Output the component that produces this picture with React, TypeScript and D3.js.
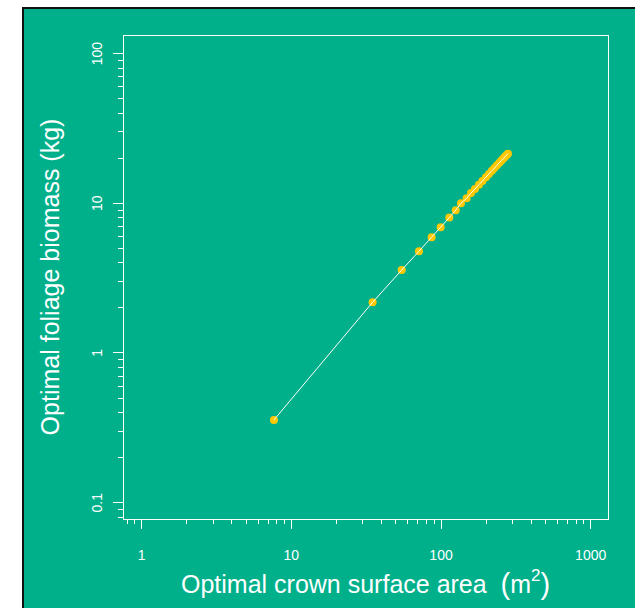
import * as d3 from "d3";

const BG = "#00b08b";
const POINT = "#ffc800";
const FONT = "'Liberation Sans', Arial, sans-serif";

// optimal crown surface area (m2) and optimal foliage biomass (kg)
const crownArea = [
  7.65, 34.9, 54.6, 71.2, 86.5, 99.4, 113.5, 125.4, 135.9, 148.3, 158.6, 168.5,
  179.1, 189.1, 199.5, 208.9, 218.8, 227.4, 236.3, 245.5, 253.2, 261.1, 267.3,
  273.5, 279.9,
];
const foliageBiomass = [
  0.357, 2.18, 3.58, 4.78, 5.93, 6.92, 8.02, 8.98, 10.0, 10.8, 11.7, 12.46,
  13.31, 14.09, 14.94, 15.69, 16.49, 17.19, 17.92, 18.67, 19.28, 19.92, 20.42,
  20.92, 21.45,
];

const xTicks = [1, 10, 100, 1000];
const yTicks = [0.1, 1, 10, 100];

const BOX = { left: 123, right: 608, top: 35, bottom: 519 };

const minorTicks = (lo: number, hi: number) => {
  const out: number[] = [];
  for (let e = -3; e <= 4; e++) {
    for (let m = 2; m <= 9; m++) {
      const v = m * Math.pow(10, e);
      if (v >= lo && v <= hi) out.push(v);
    }
  }
  return out;
};

export default function App() {
  const x = d3.scaleLog().domain([0.75, 1305]).range([BOX.left, BOX.right]);
  const y = d3.scaleLog().domain([0.0778, 133]).range([BOX.bottom, BOX.top]);

  const points = crownArea.map((a, i) => ({ a, b: foliageBiomass[i] }));
  const line = d3
    .line<{ a: number; b: number }>()
    .x((d) => x(d.a))
    .y((d) => y(d.b));

  const xMinor = minorTicks(0.75, 1305);
  const yMinor = minorTicks(0.0778, 133);

  return (
    <svg
      width={635}
      height={608}
      style={{ position: "absolute", left: 0, top: 0 }}
      fontFamily={FONT}
    >
      <rect x={23} y={8} width={640} height={640} fill={BG} stroke="#111" strokeWidth={2} />
      <rect
        x={BOX.left}
        y={BOX.top}
        width={BOX.right - BOX.left}
        height={BOX.bottom - BOX.top}
        fill="none"
        stroke="#ffffff"
        strokeWidth={1}
        shapeRendering="crispEdges"
      />

      {/* ticks */}
      <g stroke="#ffffff" shapeRendering="crispEdges">
        {xMinor.map((t) => (
          <line key={`xm${t}`} x1={x(t)} x2={x(t)} y1={BOX.bottom} y2={BOX.bottom + 5} />
        ))}
        {xTicks.map((t) => (
          <line key={`xM${t}`} x1={x(t)} x2={x(t)} y1={BOX.bottom} y2={BOX.bottom + 10} />
        ))}
        {yMinor.map((t) => (
          <line key={`ym${t}`} y1={y(t)} y2={y(t)} x1={BOX.left} x2={BOX.left - 5} />
        ))}
        {yTicks.map((t) => (
          <line key={`yM${t}`} y1={y(t)} y2={y(t)} x1={BOX.left} x2={BOX.left - 10} />
        ))}
      </g>
      {xTicks.map((t) => (
        <text key={`xl${t}`} x={x(t)} y={560} fill="#ffffff" fontSize={14} textAnchor="middle">
          {t}
        </text>
      ))}
      {yTicks.map((t) => (
        <text
          key={`yl${t}`}
          transform={`translate(102,${y(t)}) rotate(-90)`}
          fill="#ffffff"
          fontSize={14}
          textAnchor="middle"
        >
          {t}
        </text>
      ))}

      {/* axis titles */}
      <text x={181} y={593} fill="#ffffff" fontSize={25}>
        Optimal crown surface area{"\u00a0\u00a0"}
        <tspan fontSize={29} dy={1}>(</tspan>
        <tspan dy={-1}>m</tspan>
        <tspan fontSize={17} dy={-12}>2</tspan>
        <tspan fontSize={29} dy={13}>)</tspan>
      </text>
      <text
        transform={`translate(59,${(BOX.top + BOX.bottom) / 2}) rotate(-90)`}
        fill="#ffffff"
        fontSize={25}
        textAnchor="middle"
      >
        Optimal foliage biomass (kg)
      </text>

      {/* data */}
      {points.map((d, i) => (
        <circle key={i} cx={x(d.a)} cy={y(d.b)} r={4} fill={POINT} />
      ))}
      <path d={line(points) ?? ""} fill="none" stroke="#ffffff" strokeWidth={1} />
    </svg>
  );
}
